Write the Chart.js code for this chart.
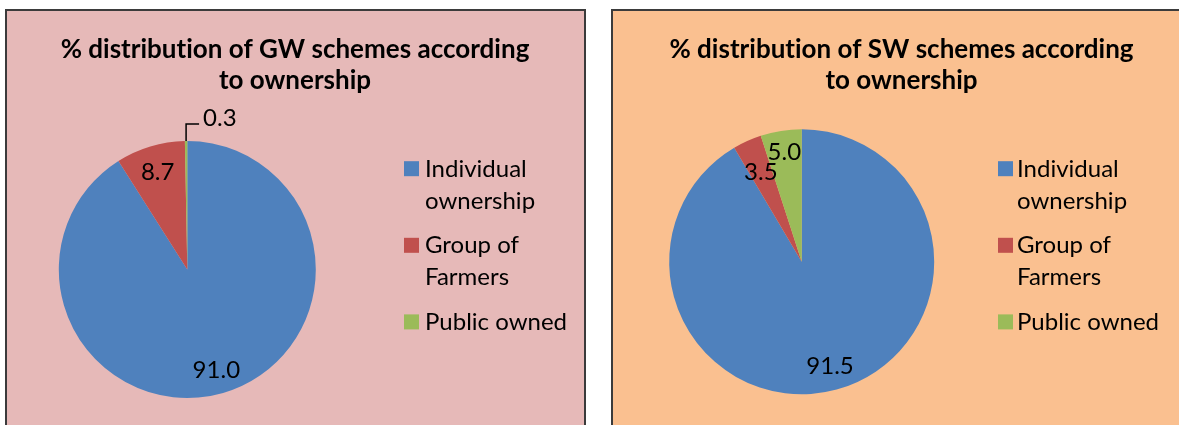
<!DOCTYPE html>
<html><head><meta charset="utf-8">
<script src="https://cdn.jsdelivr.net/npm/chart.js@4"></script>
<style>
html,body{margin:0;padding:0;background:#fff;width:1179px;height:425px;overflow:hidden;}
.panel{position:absolute;top:9px;border:2px solid #3b3b3b;height:440px;}
#p1{left:5px;width:577px;background:#E6B9B8;}
#p2{left:611px;width:600px;background:#FAC090;}
canvas{position:absolute;left:0;top:0;}
</style></head><body>
<div class="panel" id="p1"><canvas id="c1" width="577" height="414"></canvas></div>
<div class="panel" id="p2"><canvas id="c2" width="566" height="414"></canvas></div>
<script>
// ---- data ----
const categories = ['Individual ownership', 'Group of Farmers', 'Public owned'];
const legendLines = [['Individual', 'ownership'], ['Group of', 'Farmers'], ['Public owned']];
const gwValues = [91.0, 8.7, 0.3];
const swValues = [91.5, 3.5, 5.0];
const gwTitle = ['% distribution of GW schemes according', 'to ownership'];
const swTitle = ['% distribution of SW schemes according', 'to ownership'];
const sliceColors = ['#4F81BD', '#C0504D', '#9BBB59'];

const FONT = 'Lato, "Open Sans", sans-serif';

const panelText = {
  id: 'panelText',
  afterDraw(chart, args, o) {
    const ctx = chart.ctx;
    ctx.save();
    ctx.fillStyle = '#000';
    try { ctx.letterSpacing = '0.01px'; } catch (e) {}
    // title
    ctx.font = 'bold ' + o.titleSize + 'px ' + FONT;
    ctx.textAlign = 'center';
    ctx.textBaseline = 'alphabetic';
    o.title.forEach((t, i) => ctx.fillText(t, o.titleX, o.titleBase[i]));
    // legend
    ctx.font = o.legendSize + 'px ' + FONT;
    ctx.textAlign = 'left';
    let base = o.legendBase;
    legendLines.forEach((lines, i) => {
      ctx.fillStyle = sliceColors[i];
      ctx.fillRect(o.legendBoxX, base - 15.5, 15, 15);
      ctx.fillStyle = '#000';
      lines.forEach((ln, j) => {
        ctx.fillText(ln, o.legendTextX, base);
        base += (j < lines.length - 1) ? o.lineH : 0;
      });
      base += o.itemGap;
    });
    // data labels
    const meta = chart.getDatasetMeta(0);
    const vals = chart.data.datasets[0].data;
    ctx.font = o.labelSize + 'px ' + FONT;
    meta.data.forEach((arc, i) => {
      const p = arc.getProps(['x', 'y', 'startAngle', 'endAngle', 'outerRadius'], true);
      const mid = (p.startAngle + p.endAngle) / 2;
      const txt = vals[i].toFixed(1);
      const m = ctx.measureText(txt);
      const asc = m.actualBoundingBoxAscent, desc = m.actualBoundingBoxDescent;
      const f = o.labelRadius[i];
      if (f === 'leader') {
        const sx = p.x + Math.cos(mid) * p.outerRadius;
        const sy = p.y + Math.sin(mid) * p.outerRadius;
        ctx.strokeStyle = '#000';
        ctx.lineWidth = 1.5;
        ctx.beginPath();
        ctx.moveTo(sx, sy);
        ctx.lineTo(sx, sy - 17);
        ctx.lineTo(sx + 13, sy - 17);
        ctx.stroke();
        ctx.textAlign = 'left';
        ctx.fillText(txt, sx + 17, sy - 24 + (asc - desc) / 2);
      } else {
        const cx = p.x + Math.cos(mid) * p.outerRadius * f;
        const cy = p.y + Math.sin(mid) * p.outerRadius * f;
        ctx.textAlign = 'center';
        ctx.fillText(txt, cx, cy + (asc - desc) / 2);
      }
    });
    ctx.restore();
  }
};

function makePie(id, values, title, padding, textOpts) {
  return new Chart(document.getElementById(id), {
    type: 'pie',
    data: {
      labels: categories,
      datasets: [{ data: values, backgroundColor: sliceColors, borderWidth: 0 }]
    },
    options: {
      responsive: false,
      animation: false,
      layout: { padding },
      plugins: {
        legend: { display: false },
        title: { display: false },
        tooltip: { enabled: false },
        panelText: Object.assign({ title }, textOpts)
      }
    },
    plugins: [panelText]
  });
}

const common = { titleSize: 26, titleBase: [47, 78], legendSize: 24, labelSize: 24,
  legendBase: 165.7, lineH: 32, itemGap: 44.6 };

makePie('c1', gwValues, gwTitle,
  { left: 51.8, right: 268.2, top: 130, bottom: 27 },
  Object.assign({}, common, { titleX: 288, legendBoxX: 397, legendTextX: 418,
    labelRadius: [0.81, 0.80, 'leader'] }));

makePie('c2', swValues, swTitle,
  { left: 56.2, right: 244.8, top: 118.3, bottom: 30.7 },
  Object.assign({}, common, { titleX: 288.5, legendBoxX: 385, legendTextX: 404,
    labelRadius: [0.81, 0.75, 0.84] }));
</script>
</body></html>
